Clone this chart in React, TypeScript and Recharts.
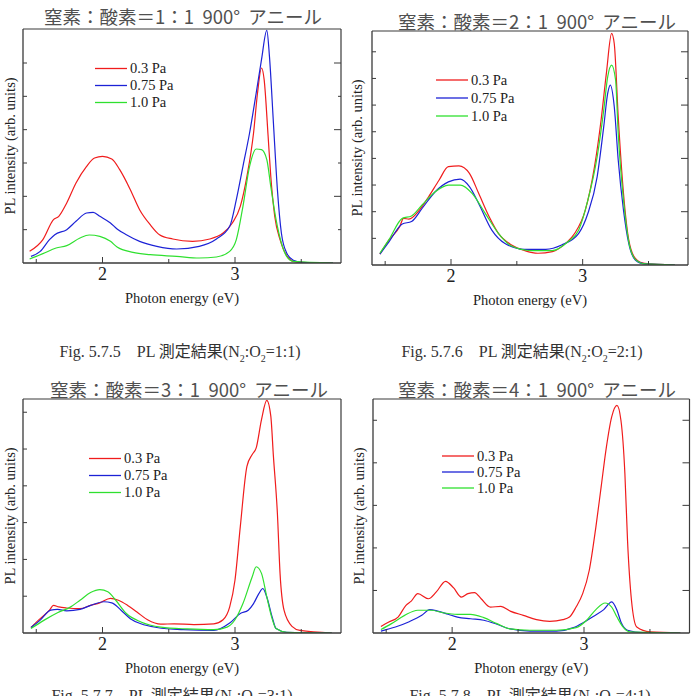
import { Legend, Line, LineChart, XAxis, YAxis } from "recharts";

type Pt = [number, number];

const SERIES_NAMES = ["0.3 Pa", "0.75 Pa", "1.0 Pa"];
const SERIES_COLORS = ["#f01c1c", "#1c22d6", "#2fe02f"];
const X_TICKS = [1.5, 2, 2.5, 3, 3.5];
const X_LABELED = [2, 3];
const X_DOMAIN: [number, number] = [1.4, 3.8];

const TITLES = [
  "窒素：酸素＝1：1  900°  アニール",
  "窒素：酸素＝2：1  900°  アニール",
  "窒素：酸素＝3：1  900°  アニール",
  "窒素：酸素＝4：1  900°  アニール",
];
const CAPTION_NUMS = ["5.7.5", "5.7.6", "5.7.7", "5.7.8"];
const CAPTION_RATIOS = ["1:1", "2:1", "3:1", "4:1"];

const Y_TICKS_1 = [1, 2, 3, 4, 5, 6];
const Y_TICKS_2 = [1, 2, 3, 4, 5, 6, 7, 8];
const Y_TICKS_3 = [1, 2, 3, 4, 5, 6];
const Y_TICKS_4 = [1, 2, 3, 4, 5, 6, 7, 8, 9, 10];

// photon energy (eV), intensity (tick units)
const p1Red: Pt[] = [
  [1.45, 0.35], [1.55, 0.7], [1.63, 1.3], [1.67, 1.4], [1.73, 1.8], [1.8, 2.4], [1.88, 2.9],
  [1.94, 3.15], [2.0, 3.2], [2.07, 3.12], [2.13, 2.8], [2.21, 2.2], [2.28, 1.6], [2.36, 1.15],
  [2.43, 0.85], [2.53, 0.72], [2.68, 0.65], [2.81, 0.72], [2.91, 0.9], [2.98, 1.2], [3.04, 1.7],
  [3.09, 2.6], [3.14, 3.9], [3.17, 5.1], [3.2, 5.85], [3.22, 5.5], [3.25, 3.8], [3.27, 2.6],
  [3.3, 1.4], [3.34, 0.7], [3.39, 0.22], [3.44, 0.05], [3.5, 0.02], [3.74, 0],
];
const p1Blue: Pt[] = [
  [1.46, 0.2], [1.53, 0.35], [1.6, 0.7], [1.64, 0.85], [1.73, 1.0], [1.8, 1.25], [1.88, 1.5],
  [1.93, 1.52], [1.98, 1.4], [2.06, 1.2], [2.11, 1.02], [2.18, 0.85], [2.28, 0.65], [2.41, 0.5],
  [2.56, 0.42], [2.73, 0.5], [2.86, 0.72], [2.96, 1.1], [3.01, 1.9], [3.06, 2.9], [3.11, 3.9],
  [3.16, 5.1], [3.2, 6.1], [3.24, 6.98], [3.26, 6.2], [3.29, 4.2], [3.32, 2.2], [3.35, 0.9],
  [3.39, 0.3], [3.44, 0.08], [3.5, 0.02], [3.74, 0],
];
const p1Green: Pt[] = [
  [1.45, 0.12], [1.5, 0.2], [1.55, 0.28], [1.65, 0.45], [1.73, 0.52], [1.83, 0.75], [1.9, 0.84],
  [1.98, 0.8], [2.06, 0.65], [2.11, 0.48], [2.23, 0.32], [2.36, 0.25], [2.56, 0.2], [2.73, 0.15],
  [2.86, 0.18], [2.96, 0.35], [3.01, 0.7], [3.06, 1.7], [3.11, 2.9], [3.16, 3.42], [3.2, 3.4],
  [3.24, 3.1], [3.27, 2.3], [3.31, 1.3], [3.35, 0.6], [3.39, 0.2], [3.44, 0.05], [3.74, 0],
];

const p2Red: Pt[] = [
  [1.46, 0.41], [1.53, 0.94], [1.61, 1.44], [1.64, 1.75], [1.68, 1.72], [1.76, 2.06], [1.83, 2.56],
  [1.91, 3.19], [1.98, 3.69], [2.06, 3.72], [2.14, 3.44], [2.21, 2.69], [2.29, 1.81], [2.36, 1.19],
  [2.46, 0.75], [2.56, 0.54], [2.66, 0.44], [2.77, 0.5], [2.87, 0.81], [2.94, 1.19], [3.02, 2.06],
  [3.09, 3.69], [3.14, 5.44], [3.18, 7.19], [3.22, 8.69], [3.24, 8.3], [3.27, 5.56], [3.31, 2.69],
  [3.35, 0.94], [3.4, 0.25], [3.47, 0.06], [3.7, 0],
];
const p2Blue: Pt[] = [
  [1.46, 0.41], [1.53, 0.88], [1.63, 1.54], [1.7, 1.63], [1.78, 2.12], [1.88, 2.75], [1.98, 3.12],
  [2.07, 3.22], [2.14, 2.94], [2.21, 2.31], [2.31, 1.31], [2.41, 0.81], [2.56, 0.59], [2.72, 0.59],
  [2.84, 0.75], [2.97, 1.19], [3.04, 1.94], [3.11, 3.31], [3.16, 5.19], [3.19, 6.44], [3.21, 6.75],
  [3.24, 5.94], [3.27, 3.94], [3.31, 2.06], [3.35, 0.81], [3.4, 0.19], [3.47, 0.04], [3.7, 0],
];
const p2Green: Pt[] = [
  [1.46, 0.44], [1.53, 0.96], [1.63, 1.75], [1.7, 1.84], [1.78, 2.25], [1.88, 2.75], [1.98, 3.0],
  [2.07, 3.0], [2.16, 2.69], [2.26, 1.94], [2.36, 1.19], [2.46, 0.71], [2.61, 0.54], [2.77, 0.54],
  [2.89, 0.88], [2.97, 1.31], [3.04, 2.44], [3.11, 4.06], [3.16, 5.81], [3.19, 7.06], [3.22, 7.5],
  [3.25, 6.94], [3.27, 4.94], [3.31, 2.44], [3.35, 0.88], [3.4, 0.21], [3.47, 0.04], [3.7, 0],
];

const p3Red: Pt[] = [
  [1.46, 0.15], [1.53, 0.39], [1.6, 0.62], [1.63, 0.75], [1.67, 0.71], [1.73, 0.68], [1.83, 0.66],
  [1.91, 0.75], [1.98, 0.82], [2.06, 0.94], [2.12, 0.89], [2.19, 0.75], [2.26, 0.57], [2.34, 0.36],
  [2.44, 0.24], [2.54, 0.25], [2.69, 0.23], [2.84, 0.25], [2.91, 0.36], [2.96, 0.71], [3.0, 1.44],
  [3.04, 2.89], [3.09, 4.53], [3.13, 4.85], [3.16, 5.03], [3.2, 5.8], [3.24, 6.32], [3.27, 5.9],
  [3.29, 4.8], [3.32, 3.25], [3.34, 1.62], [3.37, 0.62], [3.43, 0.18], [3.49, 0.07], [3.73, 0],
];
const p3Blue: Pt[] = [
  [1.46, 0.15], [1.53, 0.35], [1.61, 0.62], [1.66, 0.64], [1.73, 0.6], [1.83, 0.64], [1.91, 0.75],
  [2.01, 0.85], [2.07, 0.82], [2.14, 0.62], [2.21, 0.39], [2.29, 0.25], [2.41, 0.15], [2.61, 0.09],
  [2.84, 0.07], [2.96, 0.27], [3.04, 0.53], [3.1, 0.62], [3.14, 0.8], [3.18, 1.07], [3.21, 1.21],
  [3.24, 0.98], [3.28, 0.44], [3.31, 0.12], [3.39, 0.02], [3.73, 0],
];
const p3Green: Pt[] = [
  [1.46, 0.12], [1.56, 0.35], [1.66, 0.55], [1.76, 0.71], [1.83, 0.89], [1.91, 1.1], [1.98, 1.18],
  [2.04, 1.12], [2.1, 0.89], [2.18, 0.53], [2.29, 0.3], [2.44, 0.16], [2.64, 0.11], [2.84, 0.09],
  [2.94, 0.16], [3.0, 0.36], [3.06, 0.8], [3.13, 1.53], [3.16, 1.8], [3.2, 1.62], [3.24, 0.98],
  [3.28, 0.39], [3.31, 0.12], [3.39, 0.02], [3.73, 0],
];

const p4Red: Pt[] = [
  [1.46, 0.31], [1.52, 0.52], [1.59, 0.75], [1.65, 1.3], [1.69, 1.5], [1.74, 1.85], [1.82, 1.61],
  [1.88, 1.93], [1.95, 2.43], [2.01, 2.13], [2.07, 1.69], [2.12, 1.85], [2.17, 1.9], [2.22, 1.61],
  [2.29, 1.22], [2.37, 1.25], [2.44, 1.03], [2.54, 0.83], [2.64, 0.63], [2.74, 0.55], [2.84, 0.63],
  [2.89, 0.75], [2.94, 1.22], [2.99, 1.85], [3.04, 2.95], [3.09, 4.98], [3.13, 6.87], [3.17, 8.75],
  [3.21, 10.16], [3.25, 10.7], [3.28, 10.0], [3.31, 7.5], [3.33, 4.36], [3.36, 1.54], [3.4, 0.28],
  [3.5, 0.05], [3.73, 0],
];
const p4Blue: Pt[] = [
  [1.46, 0.09], [1.57, 0.28], [1.67, 0.52], [1.77, 0.83], [1.83, 1.1], [1.89, 1.03], [1.97, 0.88],
  [2.04, 0.75], [2.14, 0.67], [2.24, 0.6], [2.34, 0.41], [2.44, 0.19], [2.59, 0.09], [2.79, 0.09],
  [2.92, 0.25], [2.99, 0.47], [3.07, 0.78], [3.15, 1.1], [3.21, 1.46], [3.25, 1.07], [3.28, 0.52],
  [3.33, 0.13], [3.45, 0.02], [3.73, 0],
];
const p4Green: Pt[] = [
  [1.46, 0.16], [1.54, 0.44], [1.64, 0.83], [1.74, 1.07], [1.84, 1.07], [1.94, 0.94], [2.04, 0.88],
  [2.14, 0.88], [2.24, 0.72], [2.34, 0.44], [2.44, 0.19], [2.59, 0.13], [2.79, 0.13], [2.94, 0.25],
  [3.02, 0.6], [3.09, 1.1], [3.16, 1.41], [3.21, 1.22], [3.25, 0.75], [3.3, 0.25], [3.35, 0.05],
  [3.73, 0],
];

const SERIF = "'Liberation Serif', 'Times New Roman', 'Noto Sans CJK JP', serif";
const AXIS = "#3a3a3a";

type Panel = {
  series: Pt[][];
  yTop: number;
  yTicks: number[];
  box: { left: number; top: number; width: number; height: number };
  margin: { top: number; right: number; bottom: number; left: number };
  yAxisWidth: number;
  yLabelX: number;
  legend: { left: number; top: number; row: number };
  rightTicks: boolean;
  topTicks: boolean;
  title: { x: number; y: number };
  caption: { x: number; y: number };
};

// margins leave 1px for the top x axis and the right y axis (frame lines)
const PANELS: Panel[] = [
  {
    series: [p1Red, p1Blue, p1Green],
    yTop: 7.02,
    yTicks: Y_TICKS_1,
    box: { left: 0, top: 0, width: 345, height: 330 },
    margin: { top: 28, right: 3, bottom: 22, left: 0 },
    yAxisWidth: 23,
    yLabelX: 10,
    legend: { left: 95, top: 60, row: 17 },
    rightTicks: true,
    topTicks: false,
    title: { x: 183, y: 16 },
    caption: { x: 180, y: 354 },
  },
  {
    series: [p2Red, p2Blue, p2Green],
    yTop: 8.78,
    yTicks: Y_TICKS_2,
    box: { left: 345, top: 0, width: 346, height: 330 },
    margin: { top: 30, right: 2, bottom: 20, left: 0 },
    yAxisWidth: 27,
    yLabelX: 12,
    legend: { left: 91, top: 71, row: 18 },
    rightTicks: true,
    topTicks: false,
    title: { x: 537, y: 21 },
    caption: { x: 522, y: 354 },
  },
  {
    series: [p3Red, p3Blue, p3Green],
    yTop: 6.36,
    yTicks: Y_TICKS_3,
    box: { left: 0, top: 340, width: 345, height: 356 },
    margin: { top: 58, right: 3, bottom: 18, left: 0 },
    yAxisWidth: 23,
    yLabelX: 10,
    legend: { left: 89, top: 110, row: 17 },
    rightTicks: false,
    topTicks: false,
    title: { x: 189, y: 389 },
    caption: { x: 172, y: 698 },
  },
  {
    series: [p4Red, p4Blue, p4Green],
    yTop: 11,
    yTicks: Y_TICKS_4,
    box: { left: 345, top: 340, width: 346, height: 356 },
    margin: { top: 58, right: 0.5, bottom: 18, left: 0 },
    yAxisWidth: 28,
    yLabelX: 14,
    legend: { left: 97, top: 108, row: 16 },
    rightTicks: true,
    topTicks: true,
    title: { x: 537, y: 389 },
    caption: { x: 530, y: 698 },
  },
];

const toRows = (pts: Pt[]) => pts.map(([e, v]) => ({ e, v }));

function BottomTick({ x, y, payload }: any) {
  const major = X_LABELED.includes(payload.value);
  return (
    <g>
      <line x1={x} x2={x} y1={y} y2={y - (major ? 6 : 4)} stroke={AXIS} />
      {major && (
        <text x={x} y={y + 17} textAnchor="middle" fontSize={18} fontFamily={SERIF} fill="#222">
          {payload.value}
        </text>
      )}
    </g>
  );
}

function TopTick({ x, y, payload }: any) {
  const major = X_LABELED.includes(payload.value);
  return <line x1={x} x2={x} y1={y} y2={y + (major ? 5 : 3)} stroke={AXIS} />;
}

function LeftTick({ x, y }: any) {
  return <line x1={x} x2={x + 4} y1={y} y2={y} stroke={AXIS} />;
}

function RightTick({ x, y, payload }: any) {
  const major = payload.value % 2 === 0;
  return <line x1={x} x2={x - (major ? 7 : 3)} y1={y} y2={y} stroke={AXIS} />;
}

function legendRows(row: number) {
  return ({ payload }: any) => {
    const items = SERIES_NAMES.filter((n) => (payload ?? []).some((p: any) => p.value === n));
    return (
      <div>
        {items.map((name) => (
          <div key={name} style={{ display: "flex", alignItems: "center", height: row }}>
            <svg width={35} height={row} style={{ display: "block" }}>
              <line
                x1={0}
                x2={32}
                y1={row / 2}
                y2={row / 2}
                stroke={SERIES_COLORS[SERIES_NAMES.indexOf(name)]}
                strokeWidth={1.3}
              />
            </svg>
            <span style={{ fontFamily: SERIF, fontSize: 14.5, color: "#222", lineHeight: 1 }}>{name}</span>
          </div>
        ))}
      </div>
    );
  };
}

function PLPanel({ panel }: { panel: Panel }) {
  const { box, margin } = panel;
  return (
    <div style={{ position: "absolute", left: box.left, top: box.top }}>
      <LineChart width={box.width} height={box.height} margin={margin}>
        <XAxis
          dataKey="e"
          type="number"
          domain={X_DOMAIN}
          ticks={X_TICKS}
          allowDataOverflow
          height={45}
          tickSize={0}
          tickMargin={0}
          tickLine={false}
          tick={<BottomTick />}
          axisLine={{ stroke: AXIS, strokeWidth: 1.3 }}
          label={{
            value: "Photon energy (eV)",
            position: "insideBottom",
            offset: 5,
            style: { fontFamily: SERIF, fontSize: 14.5, fill: "#222" },
          }}
        />
        <XAxis
          xAxisId="top"
          orientation="top"
          type="number"
          domain={X_DOMAIN}
          ticks={X_TICKS}
          allowDataOverflow
          height={1}
          tickSize={0}
          tickMargin={0}
          tickLine={false}
          tick={panel.topTicks ? <TopTick /> : false}
          axisLine={{ stroke: AXIS, strokeWidth: 1.2 }}
        />
        <YAxis
          type="number"
          domain={[0, panel.yTop]}
          ticks={panel.yTicks}
          allowDataOverflow
          width={panel.yAxisWidth}
          tickSize={0}
          tickMargin={0}
          tickLine={false}
          tick={<LeftTick />}
          axisLine={{ stroke: AXIS, strokeWidth: 1.3 }}
          label={{
            value: "PL intensity (arb. units)",
            angle: -90,
            position: "insideLeft",
            offset: panel.yLabelX,
            style: { fontFamily: SERIF, fontSize: 14.5, fill: "#222", textAnchor: "middle" },
          }}
        />
        <YAxis
          yAxisId="right"
          orientation="right"
          type="number"
          domain={[0, panel.yTop]}
          ticks={panel.yTicks}
          allowDataOverflow
          width={1}
          tickSize={0}
          tickMargin={0}
          tickLine={false}
          tick={panel.rightTicks ? <RightTick /> : false}
          axisLine={{ stroke: AXIS, strokeWidth: 1.2 }}
        />
        {panel.series.map((pts, i) => (
          <Line
            key={SERIES_NAMES[i]}
            data={toRows(pts)}
            dataKey="v"
            name={SERIES_NAMES[i]}
            type="monotone"
            stroke={SERIES_COLORS[i]}
            strokeWidth={1.2}
            dot={false}
            activeDot={false}
            isAnimationActive={false}
          />
        ))}
        <Legend
          layout="horizontal"
          verticalAlign="middle"
          align="center"
          content={legendRows(panel.legend.row)}
          wrapperStyle={{ left: panel.legend.left, top: panel.legend.top, width: "auto" }}
        />
      </LineChart>
    </div>
  );
}

export default function App() {
  return (
    <div
      style={{
        position: "absolute",
        left: 0,
        top: 0,
        width: 691,
        height: 696,
        overflow: "hidden",
        background: "#fff",
      }}
    >
      {PANELS.map((p, i) => (
        <PLPanel key={i} panel={p} />
      ))}
      {PANELS.map((p, i) => (
        <div
          key={`t${i}`}
          style={{
            position: "absolute",
            left: p.title.x,
            top: p.title.y,
            transform: "translate(-50%, -50%)",
            whiteSpace: "pre",
            fontFamily: "'Noto Sans CJK JP', sans-serif",
            fontSize: 18.5,
            color: "#505050",
            lineHeight: 1,
          }}
        >
          {TITLES[i]}
        </div>
      ))}
      {PANELS.map((p, i) => (
        <div
          key={`c${i}`}
          style={{
            position: "absolute",
            left: p.caption.x,
            top: p.caption.y,
            transform: "translate(-50%, -50%)",
            whiteSpace: "pre",
            fontFamily: SERIF,
            fontSize: 16,
            color: "#333",
            lineHeight: 1,
          }}
        >
          {`Fig. ${CAPTION_NUMS[i]}　PL 測定結果(N`}
          <sub style={{ fontSize: 10 }}>2</sub>
          {":O"}
          <sub style={{ fontSize: 10 }}>2</sub>
          {`=${CAPTION_RATIOS[i]})`}
        </div>
      ))}
    </div>
  );
}
